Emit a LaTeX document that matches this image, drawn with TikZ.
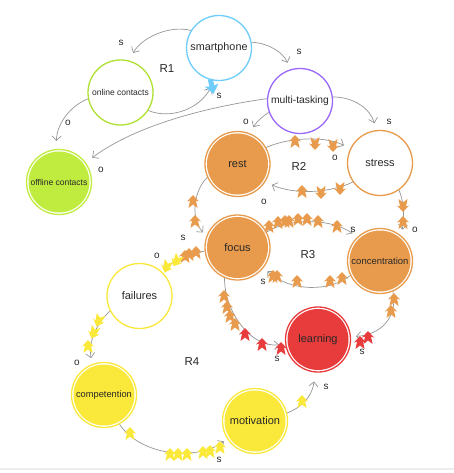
\documentclass[tikz,border=0pt]{standalone}
\usepackage{fontspec}
\setmainfont{Liberation Sans}
\usetikzlibrary{arrows.meta}
\definecolor{cblue}{RGB}{110,205,250}
\definecolor{cgreen}{RGB}{175,225,50}
\definecolor{cgreenf}{RGB}{192,236,64}
\definecolor{cpurple}{RGB}{155,105,250}
\definecolor{corange}{RGB}{232,155,76}
\definecolor{cred}{RGB}{232,60,60}
\definecolor{cyellow}{RGB}{250,232,58}
\definecolor{cedge}{RGB}{150,150,150}
\definecolor{ctext}{RGB}{40,40,40}
\begin{document}
\begin{tikzpicture}[x=1pt,y=1pt,
 var/.style={circle, minimum size=65pt, inner sep=0pt, line width=1.3pt, fill=white, text=ctext, font=\fontsize{11}{12}\selectfont},
 openv/.style={var, draw=#1},
 filledv/.style={var, draw=#1, path picture={\fill[#1] (path picture bounding box.center) circle (30.5pt);}},
 edge/.style={draw=cedge, line width=0.7pt, -{Straight Barb[length=4.5pt,width=9pt]}},
 pol/.style={font=\fontsize{10}{12}\selectfont, text=ctext, inner sep=0pt},
 loopl/.style={font=\fontsize{11.5}{12}\selectfont, text=ctext, inner sep=0pt},
 fmu/.pic={\fill[pic actions] (0,7)--(6,0.5)--(3,1.5)--(4.5,-6)--(0,-2.5)--(-4.5,-6)--(-3,1.5)--(-6,0.5)--cycle;},
 fmb/.pic={\fill[pic actions] (-2.5,8)--(2.5,8)--(2.5,1)--(7,2)--(0,-7)--(-7,2)--(-2.5,1)--cycle;},
]
\useasboundingbox (0,0) rectangle (454,-473);
\fill[black!7] (0,-467.5) rectangle (454,-470);

% nodes
\node[openv=cblue] (sm) at (219,-48) {\fontsize{10.8}{12}\selectfont smartphone};
\node[openv=cgreen] (oc) at (120.5,-92.5) {\fontsize{8.5}{10}\selectfont online contacts};
\node[openv=cpurple] (mt) at (300,-101) {\fontsize{10.3}{12}\selectfont multi-tasking};
\node[filledv=cgreenf] (off) at (59,-182) {\fontsize{8.5}{10}\selectfont offline contacts};
\node[filledv=corange] (rest) at (237.5,-164) {rest};
\node[openv=corange] (stress) at (380,-163) {stress};
\node[filledv=corange] (focus) at (237.5,-247.5) {focus};
\node[filledv=corange] (conc) at (380,-261) {\fontsize{9.5}{11}\selectfont concentration};
\node[filledv=cred] (learn) at (318,-339.5) {learning};
\node[openv=cyellow] (fail) at (139.5,-296) {failures};
\node[filledv=cyellow] (comp) at (104,-395) {\fontsize{9.3}{11}\selectfont competention};
\node[filledv=cyellow] (mot) at (255,-421) {motivation};

% loop labels
\node[loopl] (r1) at (167,-69) {R1};
\node[loopl] (r2) at (299,-166) {R2};
\node[loopl] (r3) at (308,-255) {R3};
\node[loopl] (r4) at (192,-362) {R4};

% edges
\draw[edge, shorten >=8.5pt] (sm.148) .. controls (170,-25) and (142,-37) .. (oc.75);
\draw[edge, shorten >=7pt] (sm.10) .. controls (268,-43) and (283,-52) .. (mt.107);
\draw[edge, shorten >=8pt] (oc.-33) .. controls (172,-120) and (200,-108) .. (sm.-98);
\draw[edge, shorten >=8pt] (oc.-169) .. controls (72,-105) and (57,-122) .. (off.95);
\draw[edge, shorten >=8pt] (mt.176) .. controls (220,-105) and (140,-122) .. (off.36);
\draw[edge, shorten >=7pt] (mt.200) .. controls (262,-117) and (257,-121) .. (rest.68);
\draw[edge, shorten >=7pt] (mt.7) .. controls (355,-97) and (371,-110) .. (stress.97);
\draw[edge, shorten >=7pt] (rest.30) .. controls (290,-137) and (325,-136) .. (stress.154);
\draw[edge, shorten >=7pt] (stress.215) .. controls (330,-193) and (295,-195) .. (rest.-33);
\draw[edge, shorten >=5pt] (rest.204) .. controls (194,-190) and (190,-218) .. (focus.160);
\draw[edge, shorten >=6pt] (stress.-55) .. controls (405,-205) and (404,-218) .. (conc.50);
\draw[edge, shorten >=6pt] (focus.28) .. controls (290,-218) and (330,-218) .. (conc.133);
\draw[edge, shorten >=5pt] (conc.206) .. controls (330,-292) and (290,-292) .. (focus.-38);
\draw[edge, shorten >=6pt] (focus.-113) .. controls (224,-310) and (250,-348) .. (learn.188);
\draw[edge, shorten >=5pt] (conc.-67) .. controls (398,-318) and (380,-335) .. (learn.5);
\draw[edge, shorten >=3pt] (focus.186) .. controls (190,-255) and (175,-260) .. (fail.50);
\draw[edge, shorten >=6pt] (fail.207) .. controls (98,-322) and (88,-340) .. (comp.111);
\draw[edge, shorten >=4pt] (comp.-62) .. controls (140,-455) and (195,-462) .. (mot.213);
\draw[edge, shorten >=9pt] (mot.14) .. controls (300,-408) and (312,-398) .. (learn.-95);

% polarity labels
\node[pol] (p1) at (121,-43) {s};
\node[pol] (p2) at (299,-52) {s};
\node[pol] (p3) at (219,-96) {s};
\node[pol] (p4) at (68,-123) {o};
\node[pol] (p5) at (101,-170) {o};
\node[pol] (p6) at (246,-122) {o};
\node[pol] (p7) at (389,-122) {s};
\node[pol] (p8) at (335,-158) {o};
\node[pol] (p9) at (264,-202) {o};
\node[pol] (p10) at (183,-238) {s};
\node[pol] (p11) at (415,-230) {o};
\node[pol] (p12) at (353,-230) {s};
\node[pol] (p13) at (263,-282) {s};
\node[pol] (p14) at (277,-359) {s};
\node[pol] (p15) at (362,-352) {s};
\node[pol] (p16) at (157,-256) {o};
\node[pol] (p17) at (77,-363) {o};
\node[pol] (p18) at (219,-460) {s};
\node[pol] (p19) at (326,-387) {s};

% flow markers
\pic[fill=cblue, rotate=12] at (212,-87) {fmb};
% rest -> stress
\pic[fill=corange] at (295,-142) {fmu};
\pic[fill=corange, rotate=180] at (315,-143) {fmu};
\pic[fill=corange, rotate=180] at (333,-145) {fmu};
% stress -> rest
\pic[fill=corange] at (302,-192) {fmu};
\pic[fill=corange, rotate=180] at (321,-192) {fmu};
\pic[fill=corange, rotate=180] at (340,-188) {fmu};
% rest -> focus
\pic[fill=corange] at (193,-202) {fmu};
\pic[fill=corange] at (195,-222) {fmu};
% stress -> concentration
\pic[fill=corange, rotate=180] at (403,-205) {fmu};
\pic[fill=corange] at (403,-223) {fmu};
% focus -> concentration
\pic[fill=corange] at (269,-227) {fmu};
\pic[fill=corange] at (278,-223) {fmu};
\pic[fill=corange] at (285,-222) {fmu};
\pic[fill=corange] at (289,-222) {fmu};
\pic[fill=corange] at (298,-220) {fmu};
\pic[fill=corange] at (307,-220) {fmu};
\pic[fill=corange] at (318,-222) {fmu};
\pic[fill=corange] at (337,-227) {fmu};
% concentration -> focus
\pic[fill=corange] at (273,-277) {fmu};
\pic[fill=corange] at (277,-277) {fmu};
\pic[fill=corange] at (297,-282) {fmu};
\pic[fill=corange] at (330,-282) {fmu};
\pic[fill=corange] at (342,-279) {fmu};
% focus -> learning
\pic[fill=corange] at (224,-297) {fmu};
\pic[fill=corange] at (227,-308) {fmu};
\pic[fill=corange] at (230,-317) {fmu};
\pic[fill=corange] at (235,-325) {fmu};
\pic[fill=cred] at (245,-335) {fmu};
\pic[fill=cred] at (262,-345) {fmu};
\pic[fill=cred] at (281,-349) {fmu};
% concentration -> learning
\pic[fill=corange] at (394,-300) {fmu};
\pic[fill=corange] at (391,-312) {fmu};
\pic[fill=cred] at (368,-338) {fmu};
\pic[fill=cred] at (360,-343) {fmu};
% focus -> failures
\pic[fill=corange] at (196,-253) {fmu};
\pic[fill=corange] at (189,-255) {fmu};
\pic[fill=corange] at (185,-257) {fmu};
\pic[fill=cyellow, rotate=150] at (177,-260) {fmu};
\pic[fill=cyellow, rotate=160] at (167,-266) {fmu};
% failures -> competention
\pic[fill=cyellow, rotate=160] at (99,-320) {fmu};
\pic[fill=cyellow, rotate=160] at (94,-332) {fmu};
\pic[fill=cyellow] at (88,-347) {fmu};
% competention -> motivation
\pic[fill=cyellow] at (130,-434) {fmu};
\pic[fill=cyellow] at (170,-455) {fmu};
\pic[fill=cyellow] at (178,-455) {fmu};
\pic[fill=cyellow] at (187,-455) {fmu};
\pic[fill=cyellow] at (203,-453) {fmu};
\pic[fill=cyellow] at (210,-452) {fmu};
\pic[fill=cyellow] at (220,-448) {fmu};
% motivation -> learning
\pic[fill=cyellow] at (302,-402) {fmu};
\end{tikzpicture}
\end{document}
